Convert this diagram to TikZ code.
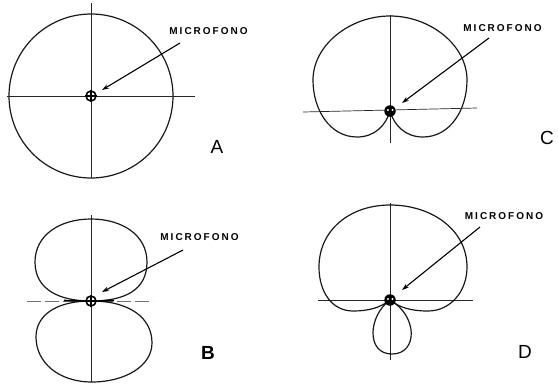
\documentclass[tikz,border=0pt]{standalone}
\usepackage{fontspec}
\setmainfont{Liberation Sans}
\newfontfamily\micfont[LetterSpace=20]{Liberation Sans}
\usetikzlibrary{arrows.meta}
\begin{document}
\begin{tikzpicture}[x=1pt,y=-1pt,
  axisline/.style={line width=0.7pt,black!85},
  curveline/.style={line width=1.2pt,black!90},
  micarrow/.style={line width=1.1pt,-{Stealth[length=7pt,width=4.5pt]}},
  mictext/.style={font=\micfont\bfseries\fontsize{10}{12}\selectfont,inner sep=0pt},
  letter/.style={font=\fontsize{19}{22}\selectfont,inner sep=0pt},
  micsym/.style={circle,draw,line width=1.6pt,minimum size=10pt,inner sep=0pt,fill=white},
  micdark/.style={circle,fill=black,minimum size=11.5pt,inner sep=0pt}]
\useasboundingbox (0,0) rectangle (558,384);

% ---------------- Panel A ----------------
\draw[curveline] (91,96) circle[radius=82];
\coordinate (aT) at (91,3); \coordinate (aB) at (91,178);
\coordinate (aL) at (7,96); \coordinate (aR) at (195,96);
\draw[axisline] (aT) -- (aB);
\draw[axisline] (aL) -- (aR);
\node[micsym] (micA) at (91,96) {};
\draw[line width=1.2pt] (micA.north) -- (micA.south) (micA.west) -- (micA.east);
\node[mictext] (txtA) at (208.5,31) {MICROFONO};
\coordinate (tailA) at (180,43);
\draw[micarrow] (tailA) -- (102,90);
\node[letter] (labA) at (217,147) {A};

% ---------------- Panel B ----------------
\coordinate (bT) at (91,215); \coordinate (bB) at (91,382);
\coordinate (bL) at (27,301); \coordinate (bR) at (153,301);
\draw[axisline] (bT) -- (bB);
\draw[axisline,black!55,dash pattern=on 14pt off 4pt] (bL) -- (bR);
\draw[curveline] (91,301) .. controls (125,301) and (147,290) .. (147,262)
  .. controls (147,235) and (122,219) .. (91,219)
  .. controls (60,219) and (35,235) .. (35,262)
  .. controls (35,290) and (60,301) .. (91,301);
\draw[curveline] (91,301) .. controls (130,301) and (152,318) .. (152,343)
  .. controls (152,366) and (125,382) .. (92,382)
  .. controls (58,382) and (36,362) .. (36,337)
  .. controls (36,316) and (55,301) .. (91,301);
\draw[line width=1.6pt] (64,300.5) -- (84,301) (98,301) -- (114,300.5);
\node[micsym] (micB) at (91,301) {};
\draw[line width=1.2pt] (micB.north) -- (micB.south) (micB.west) -- (micB.east);
\node[mictext] (txtB) at (199.5,237) {MICROFONO};
\coordinate (tailB) at (183,250);
\draw[micarrow] (tailB) -- (102,292);
\node[letter,font=\bfseries\fontsize{19}{22}\selectfont] (labB) at (208,353) {B};

% ---------------- Panel C ----------------
\coordinate (cT) at (390,15); \coordinate (cB) at (390,143);
\coordinate (cL) at (303,112); \coordinate (cR) at (477,108);
\draw[axisline] (cT) -- (cB);
\draw[axisline] (cL) -- (cR);
\draw[curveline] (390,111) .. controls (386,125) and (375,137) .. (357,137)
  .. controls (330,137) and (313,110) .. (313,80)
  .. controls (313,45) and (350,16) .. (390,16)
  .. controls (430,16) and (467,45) .. (467,80)
  .. controls (467,110) and (450,137) .. (423,137)
  .. controls (405,137) and (394,125) .. (390,111);
\node[micdark] (micC) at (390,111) {};
\fill[white] (388,110) circle[radius=1.1] (392.5,110) circle[radius=1.1];
\node[mictext] (txtC) at (502.5,28) {MICROFONO};
\coordinate (tailC) at (489,38);
\draw[micarrow] (tailC) -- (402,103);
\node[letter] (labC) at (547,138) {C};

% ---------------- Panel D ----------------
\coordinate (dT) at (390,203); \coordinate (dB) at (390,360);
\coordinate (dL) at (318,300); \coordinate (dR) at (473,300);
\draw[axisline] (dT) -- (dB);
\draw[axisline] (dL) -- (dR);
\draw[curveline] (390,300) .. controls (380,308) and (368,311) .. (353,311)
  .. controls (332,311) and (319,292) .. (319,267)
  .. controls (319,230) and (350,205) .. (390,205)
  .. controls (432,205) and (467,230) .. (467,267)
  .. controls (467,292) and (450,311) .. (428,311)
  .. controls (412,311) and (400,308) .. (390,300);
\draw[curveline] (390,300) .. controls (368,316) and (366,354) .. (392,354)
  .. controls (418,354) and (418,316) .. (390,300);
\node[micdark] (micD) at (390,300) {};
\fill[white] (388,299) circle[radius=1.1] (392.5,299) circle[radius=1.1];
\node[mictext] (txtD) at (504,216) {MICROFONO};
\coordinate (tailD) at (480,227);
\draw[micarrow] (tailD) -- (402,290);
\node[letter] (labD) at (525,352) {D};
\end{tikzpicture}
\end{document}
